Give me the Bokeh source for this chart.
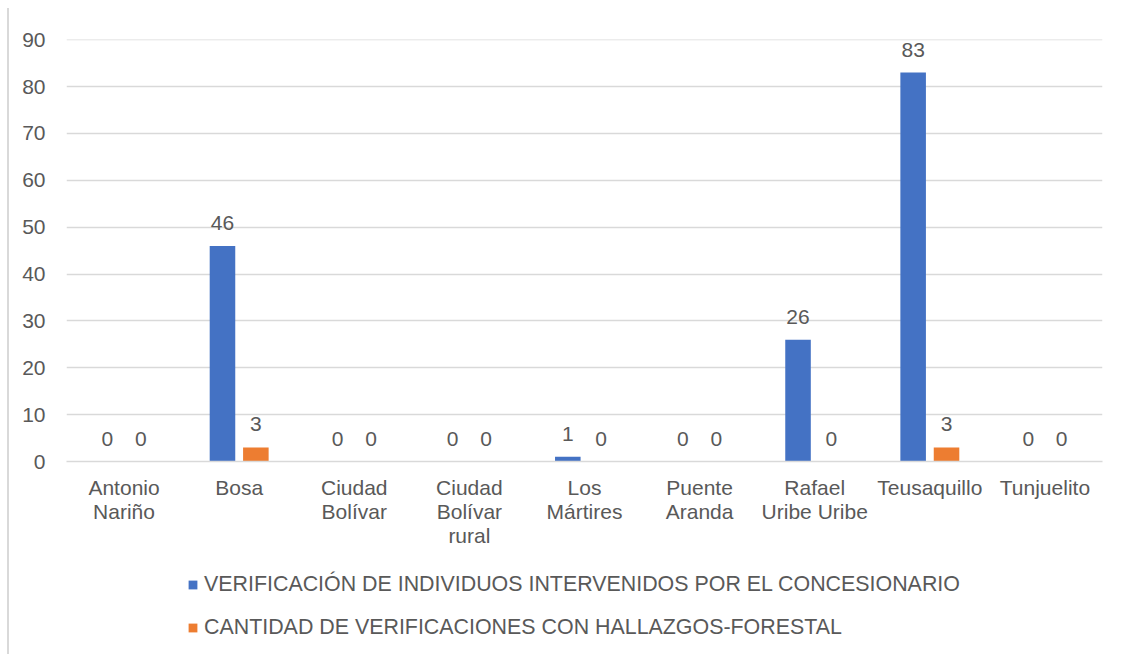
from bokeh.plotting import figure
from bokeh.layouts import column
from bokeh.models import ColumnDataSource, FactorRange, Legend, LegendItem, FixedTicker
from bokeh.transform import dodge
from bokeh.core.properties import value
from bokeh.embed import file_html
from bokeh.resources import INLINE

categories = ["Antonio\nNariño", "Bosa", "Ciudad\nBolívar", "Ciudad\nBolívar\nrural",
              "Los\nMártires", "Puente\nAranda", "Rafael\nUribe Uribe", "Teusaquillo", "Tunjuelito"]
verificacion = [0, 46, 0, 0, 1, 0, 26, 83, 0]
hallazgos = [0, 3, 0, 0, 0, 0, 0, 3, 0]
series_names = ["VERIFICACIÓN DE INDIVIDUOS INTERVENIDOS POR EL CONCESIONARIO",
                "CANTIDAD DE VERIFICACIONES CON HALLAZGOS-FORESTAL"]
y_ticks = [0, 10, 20, 30, 40, 50, 60, 70, 80, 90]

BLUE = "#4472C4"
ORANGE = "#ED7D31"
TXT = "#595959"
GRID = "#D9D9D9"
FONT = "Liberation Sans"
FS = "21px"

W = 1125
H1 = 560
H2 = 94

src = ColumnDataSource(dict(cat=categories, v=verificacion, h=hallazgos,
                            vl=[str(x) for x in verificacion], hl=[str(x) for x in hallazgos]))

p = figure(x_range=FactorRange(*categories), y_range=(0, 90.05), width=W, height=H1,
           output_backend="svg", toolbar_location=None,
           min_border_left=66, min_border_right=W - 1102, min_border_top=39,
           min_border_bottom=H1 - 461)
p.outline_line_color = None
p.border_fill_color = None

off = 0.145
bw = 0.222
r1 = p.vbar(x=dodge("cat", -off, range=p.x_range), top="v", width=bw, source=src,
            fill_color=BLUE, line_color=None)
r2 = p.vbar(x=dodge("cat", off, range=p.x_range), top="h", width=bw, source=src,
            fill_color=ORANGE, line_color=None)

for col, lab, o in (("v", "vl", -off), ("h", "hl", off)):
    p.text(x=dodge("cat", o, range=p.x_range), y=col, text=lab, source=src,
           text_align="center", text_baseline="middle", y_offset=-23,
           text_font=value(FONT), text_font_size=FS, text_color=TXT)

p.yaxis.ticker = FixedTicker(ticks=y_ticks)
p.ygrid.ticker = FixedTicker(ticks=y_ticks)
p.ygrid.grid_line_color = GRID
p.ygrid.grid_line_width = 1.5
p.xgrid.grid_line_color = None

p.yaxis.axis_line_color = None
p.yaxis.major_tick_line_color = None
p.yaxis.minor_tick_line_color = None
p.yaxis.major_label_standoff = 15
p.yaxis.major_label_text_font = FONT
p.yaxis.major_label_text_font_size = FS
p.yaxis.major_label_text_color = TXT

p.xaxis.axis_line_color = GRID
p.xaxis.axis_line_width = 1.5
p.xaxis.major_tick_line_color = None
p.xaxis.minor_tick_line_color = None
p.xaxis.major_label_standoff = 8
p.xaxis.major_label_text_font = FONT
p.xaxis.major_label_text_font_size = FS
p.xaxis.major_label_text_color = TXT
p.xaxis.major_label_text_line_height = 1.05

p.styles = {"background-image": "linear-gradient(#D9D9D9, #D9D9D9)",
            "background-size": "2px 100%", "background-position": "7px 8px",
            "background-repeat": "no-repeat"}

# legend strip (its frame is aligned with the chart's frame by the column layout)
q = figure(width=W, height=H2, output_backend="svg", toolbar_location=None,
           min_border=0, x_range=(0, 1), y_range=(0, 1))
q.axis.visible = False
q.grid.visible = False
q.outline_line_color = None
q.border_fill_color = None
q.background_fill_color = None
e = ColumnDataSource(dict(x=[0.5], top=[0]))
g1 = q.vbar(x="x", top="top", width=0.0, source=e, fill_color=BLUE, line_color=None)
g2 = q.vbar(x="x", top="top", width=0.0, source=e, fill_color=ORANGE, line_color=None)
legend = Legend(items=[LegendItem(label=series_names[0], renderers=[g1], index=0),
                       LegendItem(label=series_names[1], renderers=[g2], index=0)],
                location=(121, 14), orientation="vertical",
                glyph_width=11, glyph_height=11, label_standoff=6, spacing=18,
                label_text_font=FONT, label_text_font_size="21.4px", label_text_color=TXT,
                border_line_color=None, background_fill_alpha=0, padding=0, margin=0)
q.add_layout(legend, "center")
q.styles = {"background-image": "linear-gradient(#D9D9D9, #D9D9D9)",
            "background-size": "2px 100%", "background-position": "7px 0px",
            "background-repeat": "no-repeat"}

layout = column(p, q, spacing=0)
open("out.html", "w").write(file_html(layout, INLINE))
